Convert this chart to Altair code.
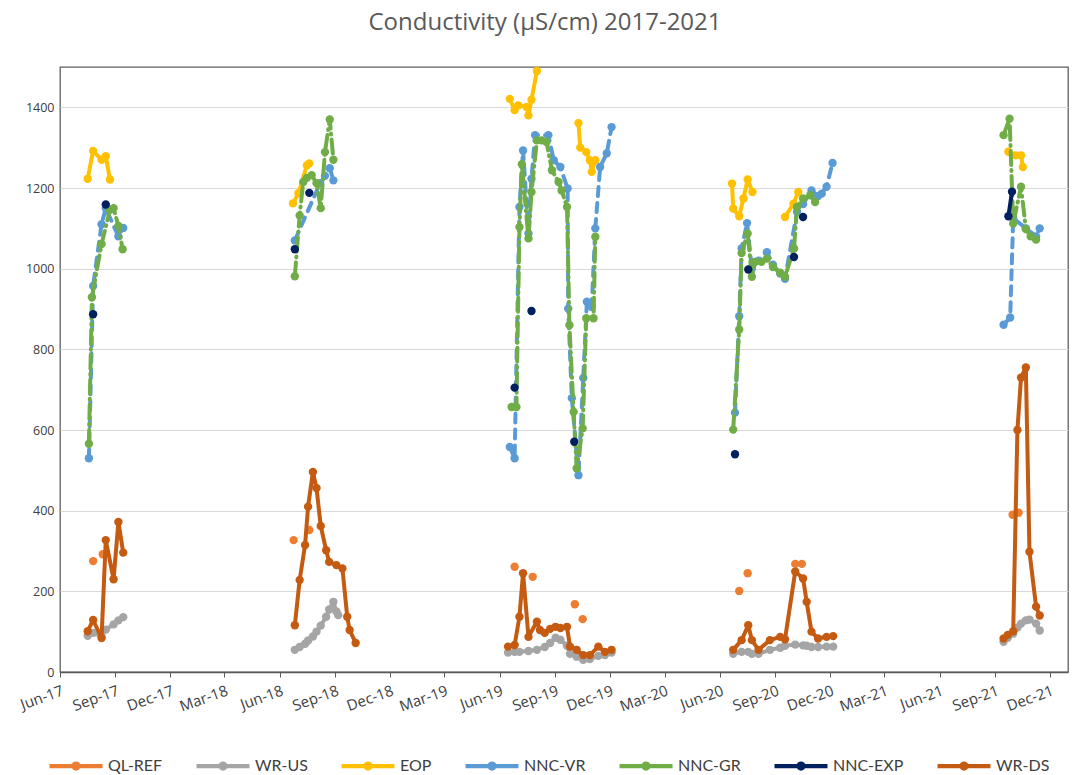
import altair as alt
import pandas as pd

TITLE = "Conductivity (µS/cm) 2017-2021"
SERIES = ["QL-REF", "WR-US", "EOP", "NNC-VR", "NNC-GR", "NNC-EXP", "WR-DS"]
COLORS = ["#ED7D31", "#A5A5A5", "#FFC000", "#5B9BD5", "#70AD47", "#002060", "#C55A11"]
DASHES = {"NNC-VR": [9, 7], "NNC-GR": [14, 5, 1, 5]}

# None in a value list ends the current run of joined points.
QL_REF_DATES = ["2017-07-26", None, "2017-08-11", None, "2018-06-24", None, "2018-07-20", None,
                "2019-06-26", None, "2019-07-26", None, "2019-10-04", None, "2019-10-17", None,
                "2020-07-03", None, "2020-07-17", None, "2020-10-04", None, "2020-10-15", None,
                "2021-09-30", None, "2021-10-10"]
QL_REF_VALUES = [275, None, 292, None, 327, None, 352, None,
                 261, None, 236, None, 168, None, 131, None,
                 201, None, 245, None, 268, None, 268, None,
                 390, None, 395]

WR_US_DATES = ["2017-07-17", "2017-07-26", "2017-08-09", "2017-08-16", "2017-08-29", "2017-09-06", "2017-09-14", None,
               "2018-06-26", "2018-07-04", "2018-07-13", "2018-07-18", "2018-07-26", "2018-08-01", "2018-08-08",
               "2018-08-17", "2018-08-22", "2018-08-29", "2018-09-03", "2018-09-06", None,
               "2019-06-15", "2019-06-26", "2019-07-04", "2019-07-19", "2019-08-02", "2019-08-15", "2019-08-24",
               "2019-09-02", "2019-09-10", "2019-09-21", "2019-09-26", "2019-10-07", "2019-10-18", "2019-10-29",
               "2019-11-12", "2019-11-23", "2019-12-04", None,
               "2020-06-23", "2020-07-07", "2020-07-18", "2020-07-24", "2020-08-04", "2020-08-23", "2020-09-09",
               "2020-09-17", "2020-10-04", "2020-10-17", "2020-10-23", "2020-10-31", "2020-11-11", "2020-11-25",
               "2020-12-06", None,
               "2021-09-15", "2021-09-22", "2021-10-01", "2021-10-08", "2021-10-14", "2021-10-22", "2021-10-28",
               "2021-11-08", "2021-11-14"]
WR_US_VALUES = [90, 97, 88, 105, 118, 128, 136, None,
                55, 62, 70, 78, 88, 100, 115, 137, 155, 174, 150, 141, None,
                48, 50, 50, 52, 55, 62, 72, 85, 80, 65, 45, 38, 30, 32, 40, 42, 48, None,
                45, 50, 50, 45, 45, 55, 60, 65, 68, 66, 65, 62, 62, 63, 63, None,
                75, 85, 95, 110, 120, 128, 130, 120, 103]

EOP_DATES = ["2017-07-17", "2017-07-26", "2017-08-09", "2017-08-16", "2017-08-23", None,
             "2018-06-23", "2018-07-02", "2018-07-16", "2018-07-20", None,
             "2019-06-18", "2019-06-26", "2019-07-02", "2019-07-16", "2019-07-19", "2019-07-24", "2019-08-02", None,
             "2019-10-10", "2019-10-13", "2019-10-23", "2019-10-29", "2019-11-01", "2019-11-07", None,
             "2020-06-21", "2020-06-23", "2020-07-03", "2020-07-10", "2020-07-17", "2020-07-25", None,
             "2020-09-17", "2020-10-01", "2020-10-09", None,
             "2021-09-23", "2021-10-05", "2021-10-14", "2021-10-17"]
EOP_VALUES = [1223, 1292, 1270, 1279, 1221, None,
              1162, 1187, 1256, 1261, None,
              1421, 1393, 1405, 1401, 1380, 1419, 1490, None,
              1361, 1300, 1289, 1269, 1240, 1269, None,
              1211, 1149, 1130, 1174, 1221, 1190, None,
              1128, 1161, 1190, None,
              1290, 1281, 1281, 1252]

NNC_VR_DATES = ["2017-07-19", "2017-07-26", "2017-08-09", "2017-08-16", "2017-09-06", "2017-09-14", None,
                "2018-06-26", "2018-08-07", "2018-08-15", "2018-08-23", "2018-08-29", None,
                "2019-06-18", "2019-06-26", "2019-07-04", "2019-07-10", "2019-07-19", "2019-07-24", "2019-07-30",
                "2019-08-21", "2019-08-30", "2019-09-10", "2019-09-22", "2019-09-23", "2019-09-29", "2019-10-10",
                "2019-10-18", "2019-10-24", "2019-11-01", "2019-11-07", "2019-11-15", "2019-11-26", "2019-12-04", None,
                "2020-06-26", "2020-07-03", "2020-07-07", "2020-07-16", "2020-07-24", "2020-08-04", "2020-08-18",
                "2020-08-28", "2020-09-09", "2020-09-17", "2020-10-07", "2020-10-17", "2020-10-31", "2020-11-11",
                "2020-11-17", "2020-11-25", "2020-12-05", None,
                "2021-09-15", "2021-09-26", "2021-10-01", "2021-10-22", "2021-11-08", "2021-11-14"]
NNC_VR_VALUES = [530, 957, 1110, 1150, 1080, 1101, None,
                 1070, 1212, 1230, 1249, 1219, None,
                 558, 530, 1153, 1293, 1087, 1223, 1331, 1331, 1269, 1252, 1199, 901, 679, 488,
                 729, 918, 905, 1100, 1252, 1286, 1351, None,
                 643, 882, 1050, 1113, 1000, 1020, 1041, 1010, 988, 975, 1141, 1160, 1194, 1180,
                 1186, 1203, 1262, None,
                 861, 879, 1125, 1100, 1080, 1100]

NNC_GR_DATES = ["2017-07-19", "2017-07-24", "2017-08-09", "2017-08-23", "2017-08-29", "2017-09-06", "2017-09-13", None,
                "2018-06-26", "2018-07-04", "2018-07-10", "2018-07-16", "2018-07-24", "2018-08-01", "2018-08-08",
                "2018-08-15", "2018-08-23", "2018-08-29", None,
                "2019-06-21", "2019-06-29", "2019-07-04", "2019-07-08", "2019-07-19", "2019-07-24", "2019-08-02",
                "2019-08-10", "2019-08-18", "2019-08-27", "2019-09-07", "2019-09-12", "2019-09-21", "2019-09-25",
                "2019-10-02", "2019-10-07", "2019-10-17", "2019-10-23", "2019-11-04", "2019-11-07", None,
                "2020-06-23", "2020-07-03", "2020-07-07", "2020-07-17", "2020-07-24", "2020-07-29", "2020-08-09",
                "2020-08-18", "2020-08-28", "2020-09-09", "2020-09-17", "2020-10-02", "2020-10-07", "2020-10-17",
                "2020-10-29", "2020-11-06", None,
                "2021-09-15", "2021-09-25", "2021-10-01", "2021-10-14", "2021-10-22", "2021-10-30", "2021-11-08"]
NNC_GR_VALUES = [566, 929, 1061, 1146, 1150, 1106, 1048, None,
                 981, 1132, 1215, 1225, 1232, 1212, 1150, 1289, 1370, 1270, None,
                 657, 657, 1103, 1259, 1075, 1190, 1318, 1318, 1314, 1244, 1215, 1194, 1153, 860,
                 645, 505, 604, 877, 877, 1079, None,
                 601, 849, 1039, 1087, 980, 1017, 1017, 1025, 1004, 990, 980, 1050, 1153, 1174,
                 1182, 1165, None,
                 1331, 1372, 1112, 1203, 1098, 1080, 1072]

NNC_EXP_DATES = ["2017-07-26", None, "2017-08-16", None, "2018-06-26", None, "2018-07-20", None,
                 "2019-06-26", None, "2019-07-24", None, "2019-10-03", None,
                 "2020-06-26", None, "2020-07-18", None, "2020-10-02", None, "2020-10-17", None,
                 "2021-09-23", "2021-09-29"]
NNC_EXP_VALUES = [887, None, 1159, None, 1048, None, 1188, None,
                  705, None, 895, None, 571, None,
                  540, None, 998, None, 1029, None, 1128, None,
                  1130, 1191]

WR_DS_DATES = ["2017-07-17", "2017-07-26", "2017-08-09", "2017-08-16", "2017-08-29", "2017-09-06", "2017-09-14", None,
               "2018-06-26", "2018-07-04", "2018-07-13", "2018-07-18", "2018-07-26", "2018-08-01", "2018-08-08",
               "2018-08-17", "2018-08-22", "2018-09-03", "2018-09-13", "2018-09-21", "2018-09-25", "2018-10-05", None,
               "2019-06-15", "2019-06-26", "2019-07-04", "2019-07-10", "2019-07-19", "2019-08-02", "2019-08-07",
               "2019-08-15", "2019-08-24", "2019-09-02", "2019-09-10", "2019-09-21", "2019-09-26", "2019-10-07",
               "2019-10-18", "2019-10-29", "2019-11-12", "2019-11-23", "2019-12-04", None,
               "2020-06-23", "2020-07-07", "2020-07-18", "2020-07-24", "2020-08-04", "2020-08-23", "2020-09-09",
               "2020-09-17", "2020-10-04", "2020-10-17", "2020-10-23", "2020-10-31", "2020-11-11", "2020-11-25",
               "2020-12-06", None,
               "2021-09-15", "2021-09-22", "2021-10-01", "2021-10-08", "2021-10-14", "2021-10-22", "2021-10-28",
               "2021-11-08", "2021-11-14"]
WR_DS_VALUES = [101, 129, 84, 327, 230, 372, 296, None,
                116, 228, 315, 410, 496, 456, 362, 302, 273, 265, 257, 137, 104, 72, None,
                63, 67, 137, 245, 87, 125, 104, 97, 107, 112, 109, 112, 63, 55, 42, 42, 63, 50, 55, None,
                55, 79, 116, 79, 55, 79, 87, 81, 249, 232, 174, 100, 83, 87, 89, None,
                83, 92, 101, 600, 730, 755, 298, 162, 140]

SERIES_DATA = {
    "QL-REF": (QL_REF_DATES, QL_REF_VALUES),
    "WR-US": (WR_US_DATES, WR_US_VALUES),
    "EOP": (EOP_DATES, EOP_VALUES),
    "NNC-VR": (NNC_VR_DATES, NNC_VR_VALUES),
    "NNC-GR": (NNC_GR_DATES, NNC_GR_VALUES),
    "NNC-EXP": (NNC_EXP_DATES, NNC_EXP_VALUES),
    "WR-DS": (WR_DS_DATES, WR_DS_VALUES),
}

Y_TICKS = [0, 200, 400, 600, 800, 1000, 1200, 1400]
X_TICK_MONTHS = [(y, m) for y in range(2017, 2022) for m in (3, 6, 9, 12)
                 if (2017, 6) <= (y, m) <= (2021, 12)]


def to_rows(name, dates, values):
    rows, run = [], 0
    for d, v in zip(dates, values):
        if v is None:
            run += 1
            continue
        rows.append({"series": name, "date": d, "value": v, "run": f"{name}-{run}"})
    return rows


records = []
for name in SERIES:
    records += to_rows(name, *SERIES_DATA[name])
df = pd.DataFrame(records)

# legend glyph, stroked: a short line plus a tiny ring that the thick stroke fills in
LEGEND_GLYPH = ("M-1,0L1,0 "
                "M0.095,0A0.095,0.095,0,1,1,-0.095,0A0.095,0.095,0,1,1,0.095,0Z")

color_scale = alt.Scale(domain=SERIES, range=COLORS)
legend = alt.Legend(
    title=None, orient="none", direction="horizontal", legendX=-13, legendY=670,
    columnPadding=25, labelFont="Lato", labelFontSize=16,
    labelColor="#404040", labelOffset=3, symbolType=LEGEND_GLYPH, symbolSize=2809,
    symbolStrokeWidth=4.2, symbolOpacity=1, padding=0,
)

x_enc = alt.X(
    "date:T", title=None,
    scale=alt.Scale(type="utc", domain=[alt.DateTime(year=2017, month=6, date=1, utc=True),
                                       alt.DateTime(year=2021, month=12, date=31, utc=True)]),
    axis=alt.Axis(values=[alt.DateTime(year=y, month=m, date=1, utc=True) for y, m in X_TICK_MONTHS],
                  format="%b-%y", labelAngle=340, labelAlign="right", labelBaseline="top",
                  labelPadding=6, labelFontSize=15, grid=False, ticks=True, tickSize=5,
                  tickColor="#595959", domainColor="#595959", domainWidth=1.3, labelOverlap=False),
)
y_enc = alt.Y(
    "value:Q", title=None, scale=alt.Scale(domain=[0, 1500], nice=False),
    axis=alt.Axis(values=Y_TICKS, format="d", grid=True, gridColor="#D9D9D9", ticks=False,
                  domain=False, labelPadding=6, labelFontSize=12.5),
)

color = alt.Color("series:N", scale=color_scale, legend=legend)
layers = []
for name in SERIES:
    base = alt.Chart(df[df["series"] == name])
    line_kw = {"strokeWidth": 4, "strokeCap": "round", "strokeJoin": "round"}
    if name in DASHES:
        line_kw["strokeDash"] = DASHES[name]
    layers.append(base.mark_line(**line_kw).encode(x=x_enc, y=y_enc, detail="run:N", color=color))
    layers.append(base.mark_circle(size=70, opacity=1).encode(x=x_enc, y=y_enc, color=color))

chart = alt.layer(*layers).properties(
    width=1008, height=605, autosize="none",
    padding={"left": 60, "top": 67, "right": 5, "bottom": 103},
    title=alt.TitleParams(TITLE, font="Open Sans", fontSize=24, fontWeight="normal",
                          color="#595959", anchor="middle", offset=32, dx=-19),
).configure_view(
    stroke="#5E5E5E", strokeWidth=1.3,
).configure_axis(
    labelFont="Open Sans", labelColor="#404040",
)

chart.save("out.html", embed_options={"renderer": "svg", "actions": False})
